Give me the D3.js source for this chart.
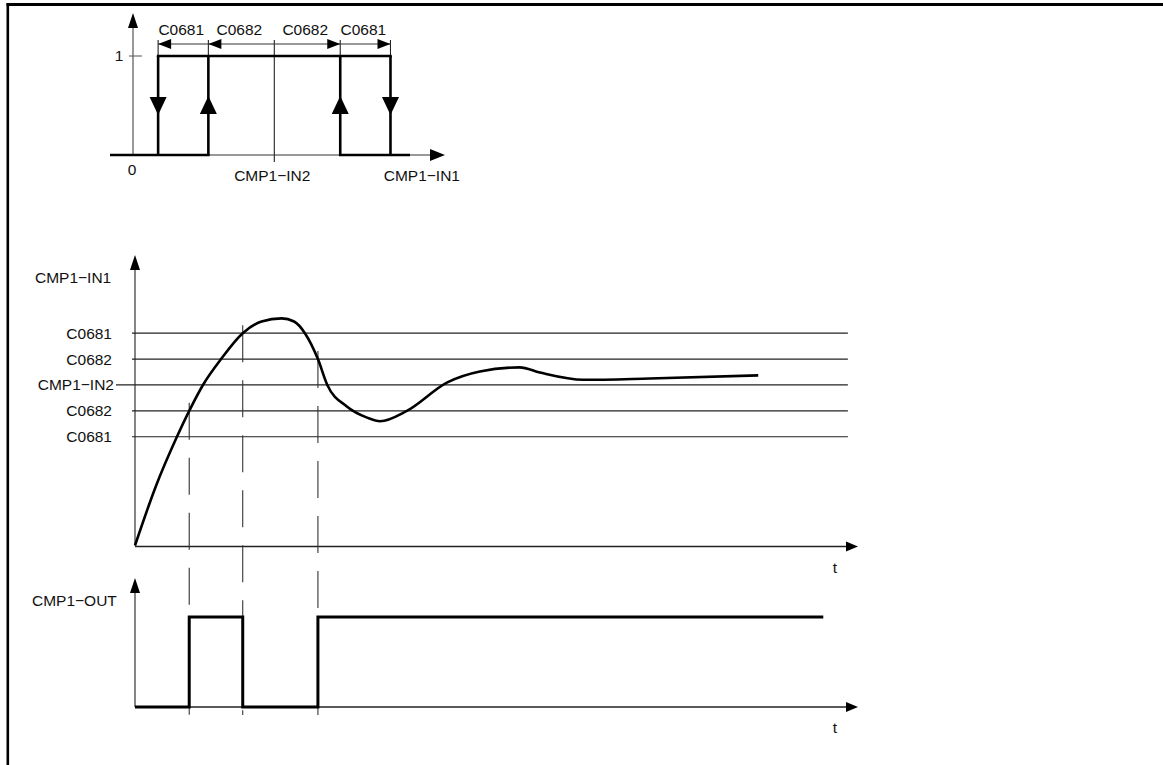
<!DOCTYPE html>
<html lang="en">
<head>
<meta charset="utf-8">
<title>Comparator hysteresis</title>
<script type="text/javascript" src="https://d3js.org/d3.v7.min.js"></script>
<style>
body { margin: 0; background: white; }
text { font-family: "Liberation Sans", Arial, Helvetica, sans-serif; font-size: 15.5px; fill: #111; }
</style>
</head>
<body>
<div id="container"></div>
<script type="text/javascript">

    //data
    var levelNames = ["C0681", "C0682", "CMP1\u2212IN2", "C0682", "C0681"];
    var levelValues = [82, 72, 62, 52, 42];

    var curveT = [0, 2.9, 5.8, 7.5, 9.4, 11.9, 14.9, 17.5, 20.3, 22, 23.5, 25.3, 26.6, 29.3, 32.1, 33.9, 37.6, 43.2, 47.7, 53.2, 56, 62, 71.2, 86.2];
    var curveV = [0, 23, 42, 52, 62, 72, 82, 86.5, 87.7, 86.5, 82, 72, 62, 53.7, 49.4, 48, 52, 63, 67.2, 68.8, 66.8, 64, 64.5, 65.7];

    var switchT = [7.5, 14.9, 25.3];
    var switchLevel = [52, 82, 72];

    var outT = [0, 7.5, 14.9, 25.3, 95.2];
    var outV = [0, 1, 0, 1, 1];

    //hysteresis sketch: switching points on the CMP1-IN1 axis
    var hystPos = [8, 24, 45, 66, 82];
    var hystNames = ["C0681", "C0682", "C0682", "C0681"];
    var hystDir = ["down", "up", "up", "down"];

    //layout
    var w = 1163;
    var h = 765;

    var svg = d3.select("div#container").append("svg")
        .attr("width", w).attr("height", h)
        .style("background", "white");

    //frame
    svg.append("line").attr("x1", 6.5).attr("x2", w).attr("y1", 4.5).attr("y2", 4.5)
        .attr("stroke", "black").attr("stroke-width", 3);
    svg.append("line").attr("x1", 7.8).attr("x2", 7.8).attr("y1", 3).attr("y2", h)
        .attr("stroke", "black").attr("stroke-width", 2.6);

    //arrow head helper, tip at (x,y)
    function arrow(g, x, y, dir, len, half) {
        var p;
        if (dir == "right") p = [[x, y], [x - len, y - half], [x - len, y + half]];
        if (dir == "left") p = [[x, y], [x + len, y - half], [x + len, y + half]];
        if (dir == "up") p = [[x, y], [x - half, y + len], [x + half, y + len]];
        if (dir == "down") p = [[x, y], [x - half, y - len], [x + half, y - len]];
        g.append("path").attr("d", "M" + p.join("L") + "Z").attr("fill", "black");
    }

    // ---------- top sketch ----------
    var xTop = d3.scaleLinear().domain([0, 100]).range([133, 447]);
    var yTop = d3.scaleLinear().domain([0, 1]).range([155, 56]);
    var gTop = svg.append("g");

    gTop.append("line").attr("x1", xTop(0)).attr("x2", xTop(0)).attr("y1", yTop(0)).attr("y2", 20)
        .attr("stroke", "#555").attr("stroke-width", 1.2);
    arrow(gTop, xTop(0), 13, "up", 15, 5);
    gTop.append("line").attr("x1", 110).attr("x2", 440).attr("y1", yTop(0)).attr("y2", yTop(0))
        .attr("stroke", "#333").attr("stroke-width", 1.2);
    arrow(gTop, 445, yTop(0), "right", 15, 6);
    gTop.append("line").attr("x1", xTop(0) - 4).attr("x2", xTop(0) + 9).attr("y1", yTop(1)).attr("y2", yTop(1))
        .attr("stroke", "#555").attr("stroke-width", 1);

    gTop.append("text").attr("x", 119).attr("y", yTop(1) + 5).attr("text-anchor", "middle").text("1");
    gTop.append("text").attr("x", xTop(0) - 1).attr("y", 175).attr("text-anchor", "middle").text("0");
    gTop.append("text").attr("x", xTop(hystPos[2]) - 2).attr("y", 181).attr("text-anchor", "middle").text("CMP1\u2212IN2");
    gTop.append("text").attr("x", xTop(92)).attr("y", 181).attr("text-anchor", "middle").text("CMP1\u2212IN1");

    //centre line
    gTop.append("line").attr("x1", xTop(hystPos[2])).attr("x2", xTop(hystPos[2])).attr("y1", 40).attr("y2", 162)
        .attr("stroke", "#222").attr("stroke-width", 1.1);

    //thick output path
    var edges = [hystPos[0], hystPos[1], hystPos[3], hystPos[4]];
    edges.forEach(function(p) {
        gTop.append("line").attr("x1", xTop(p)).attr("x2", xTop(p)).attr("y1", yTop(0)).attr("y2", yTop(1))
            .attr("stroke", "black").attr("stroke-width", 2.6);
        gTop.append("line").attr("x1", xTop(p)).attr("x2", xTop(p)).attr("y1", 40).attr("y2", yTop(1))
            .attr("stroke", "#222").attr("stroke-width", 1.1);
    });
    gTop.append("line").attr("x1", xTop(hystPos[0]) - 1.3).attr("x2", xTop(hystPos[4]) + 1.3).attr("y1", yTop(1)).attr("y2", yTop(1))
        .attr("stroke", "black").attr("stroke-width", 2.6);
    gTop.append("line").attr("x1", 110).attr("x2", xTop(hystPos[1]) + 1.3).attr("y1", yTop(0)).attr("y2", yTop(0))
        .attr("stroke", "black").attr("stroke-width", 2.6);
    gTop.append("line").attr("x1", xTop(hystPos[3]) - 1.3).attr("x2", 410).attr("y1", yTop(0)).attr("y2", yTop(0))
        .attr("stroke", "black").attr("stroke-width", 2.6);

    //direction triangles
    edges.forEach(function(p, i) {
        if (hystDir[i] == "down") arrow(gTop, xTop(p), 115, "down", 18, 8.5);
        else arrow(gTop, xTop(p), 96, "up", 18, 8.5);
    });

    //dimension line with labels
    gTop.append("line").attr("x1", xTop(hystPos[0])).attr("x2", xTop(hystPos[4])).attr("y1", 44).attr("y2", 44)
        .attr("stroke", "#333").attr("stroke-width", 1.1);
    arrow(gTop, xTop(hystPos[0]), 44, "left", 13, 5);
    arrow(gTop, xTop(hystPos[1]), 44, "left", 13, 5);
    arrow(gTop, xTop(hystPos[3]), 44, "right", 13, 5);
    arrow(gTop, xTop(hystPos[4]), 44, "right", 13, 5);
    hystNames.forEach(function(n, i) {
        gTop.append("text").attr("x", (xTop(hystPos[i]) + xTop(hystPos[i + 1])) / 2 - 2).attr("y", 35)
            .attr("text-anchor", "middle").text(n);
    });

    // ---------- input signal ----------
    var x = d3.scaleLinear().domain([0, 100]).range([135, 858]);
    var y = d3.scaleLinear().domain([0, 112]).range([545.5, 255.5]);
    var yOut = d3.scaleLinear().domain([0, 1]).range([707, 617]);
    var gMid = svg.append("g");

    //axes
    gMid.append("line").attr("x1", x(0)).attr("x2", x(0)).attr("y1", y(0)).attr("y2", 265)
        .attr("stroke", "#333").attr("stroke-width", 1.2);
    arrow(gMid, x(0), 255, "up", 15, 5);
    gMid.append("line").attr("x1", x(0)).attr("x2", 850).attr("y1", y(0) + 1).attr("y2", y(0) + 1)
        .attr("stroke", "#222").attr("stroke-width", 1.3);
    arrow(gMid, 858, y(0) + 1, "right", 12, 5);
    gMid.append("text").attr("x", 35).attr("y", 283).text("CMP1\u2212IN1");
    gMid.append("text").attr("x", 835).attr("y", 573).attr("text-anchor", "middle").text("t");

    //threshold levels
    levelValues.forEach(function(v, i) {
        gMid.append("line").attr("x1", i == 2 ? 116 : 132).attr("x2", x(98.6)).attr("y1", y(v)).attr("y2", y(v))
            .attr("stroke", "#222").attr("stroke-width", 1.2);
        gMid.append("text").attr("x", i == 2 ? 114 : 112).attr("y", y(v) + 5.5).attr("text-anchor", "end").text(levelNames[i]);
    });

    //switching instants
    switchT.forEach(function(t, i) {
        gMid.append("line").attr("x1", x(t)).attr("x2", x(t)).attr("y1", y(switchLevel[i]) - 8).attr("y2", 715)
            .attr("stroke", "#333").attr("stroke-width", 1.1)
            .attr("stroke-dasharray", "37,18");
    });

    //input curve
    var line = d3.line()
        .x(function(d, i) { return x(curveT[i]); })
        .y(function(d, i) { return y(curveV[i]); })
        .curve(d3.curveMonotoneX);
    gMid.append("path").attr("d", line(curveT)).attr("fill", "none")
        .attr("stroke", "black").attr("stroke-width", 2.6);

    // ---------- output signal ----------
    var gBot = svg.append("g");
    gBot.append("line").attr("x1", x(0)).attr("x2", x(0)).attr("y1", yOut(0)).attr("y2", 588)
        .attr("stroke", "#333").attr("stroke-width", 1.2);
    arrow(gBot, x(0), 578, "up", 15, 5);
    gBot.append("line").attr("x1", x(0)).attr("x2", 850).attr("y1", yOut(0)).attr("y2", yOut(0))
        .attr("stroke", "#222").attr("stroke-width", 1.3);
    arrow(gBot, 858, yOut(0), "right", 12, 5);
    gBot.append("text").attr("x", 32).attr("y", 606).text("CMP1\u2212OUT");
    gBot.append("text").attr("x", 835).attr("y", 733).attr("text-anchor", "middle").text("t");

    var step = d3.line()
        .x(function(d, i) { return x(outT[i]); })
        .y(function(d, i) { return yOut(outV[i]); })
        .curve(d3.curveStepAfter);
    gBot.append("path").attr("d", step(outT)).attr("fill", "none")
        .attr("stroke", "black").attr("stroke-width", 3);

</script>
</body>
</html>
